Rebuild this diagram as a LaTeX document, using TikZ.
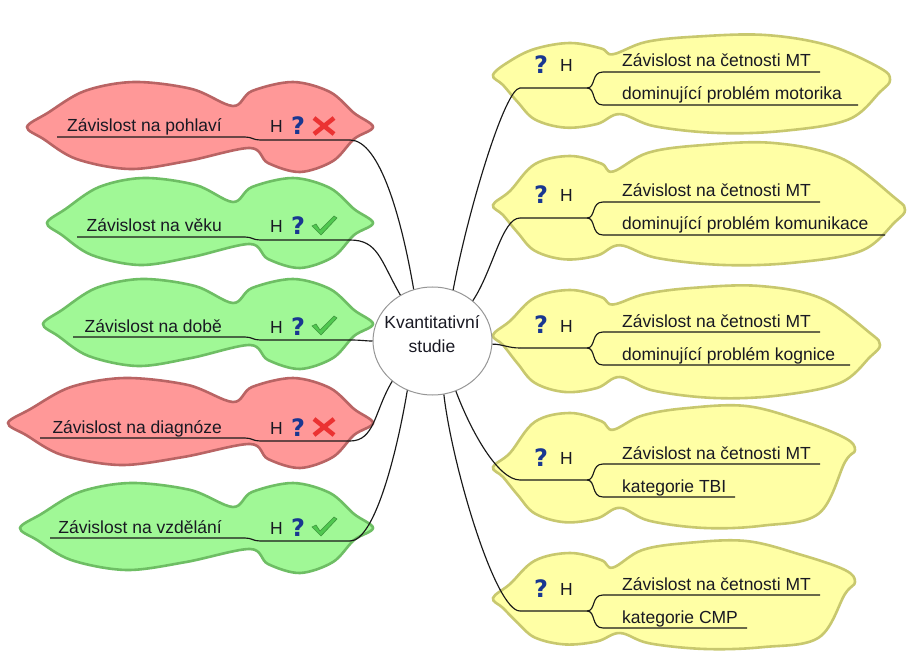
\documentclass[tikz,border=0pt]{standalone}
\usepackage{fontspec}
\setmainfont{Liberation Sans}
\newfontfamily\qfont{DejaVu Sans}
\usetikzlibrary{shapes.geometric}

\definecolor{txt}{RGB}{25,25,35}
\definecolor{redfill}{RGB}{255,152,152}
\definecolor{redline}{RGB}{185,100,100}
\definecolor{grnfill}{RGB}{160,248,150}
\definecolor{grnline}{RGB}{110,190,100}
\definecolor{ylwfill}{RGB}{255,255,165}
\definecolor{ylwline}{RGB}{200,200,110}
\definecolor{qblue}{RGB}{25,55,145}
\definecolor{xred}{RGB}{235,50,50}
\definecolor{tickg}{RGB}{80,200,80}
\definecolor{ringgray}{RGB}{150,150,150}

% double-lobed bubble on the left: #1 style, #2 left tip x, #3 axis y
\newcommand\leftblob[3]{%
  \pgfmathsetmacro\bw{233-#2}%
  \draw[#1] plot[smooth cycle, tension=0.55] coordinates {
    (#2,#3) ({#2+0.1*\bw},{#3-14}) ({#2+0.28*\bw},{#3-36}) ({#2+0.52*\bw},{#3-45})
    ({#2+0.8*\bw},{#3-38}) (233,{#3-21}) (252,{#3-36}) (293,{#3-45}) (330,{#3-35})
    (354,{#3-14}) (373,#3) (354,{#3+12}) (333,{#3+34}) (300,{#3+45}) (268,{#3+36})
    (250,{#3+21}) ({#2+0.78*\bw},{#3+34}) ({#2+0.5*\bw},{#3+42}) ({#2+0.24*\bw},{#3+32})
    ({#2+0.08*\bw},{#3+12})
  };}

% cloud on the right: #1 style, #2 baseline y, #3 right tip x, #4 top, #5 bottom,
% #6 right tip offset, #7 height of the small left lobe
\newcommand\rightblob[7]{%
  \pgfmathsetmacro\rw{#3-613}%
  \draw[#1] plot[smooth cycle, tension=0.6] coordinates {
    (493,{#2-13}) (510,{#2-27}) (535,{#2-0.87*#7}) (570,{#2-#7}) (601,{#2-0.88*#7})
    (613,{#2-0.75*#7})
    ({613+0.12*\rw},{#2-0.87*#4}) ({613+0.3*\rw},{#2-0.97*#4}) ({613+0.55*\rw},{#2-#4})
    ({613+0.78*\rw},{#2-0.8*#4})
    ({#3-10},{#2+(#6)-12}) (#3,{#2+(#6)}) ({#3-10},{#2+(#6)+12})
    ({613+0.85*\rw},{#2+0.7*#5}) ({613+0.62*\rw},{#2+0.95*#5}) ({613+0.38*\rw},{#2+#5})
    ({613+0.15*\rw},{#2+0.85*#5})
    (620,{#2+0.58*#5}) (597,{#2+0.8*#5}) (565,{#2+0.88*#5}) (535,{#2+0.7*#5})
    (518,{#2+0.32*#5}) (503,{#2-3})
  };}

% underline of a left topic: #1 start x, #2 y, #3 name of its right end
\newcommand\leftunder[3]{%
  \coordinate (#3) at (350,{#2+3});
  \draw[link] (#1,#2) -- (245,#2) .. controls (252,#2) and (253,{#2+3}) .. (260,{#2+3}) -- (#3);}

% H and question mark of a left topic: #1 underline y, #2 suffix
\newcommand\leftmarks[2]{%
  \node[lbl, anchor=base west] (h#2) at (270,{#1-4}) {H};
  \node[qmark, anchor=base west] (q#2) at (291,{#1-2}) {?};}

\newcommand\xicon[1]{%
  \draw[xmark] (314,{#1-19}) -- (334,{#1-3}) (314,{#1-3}) -- (334,{#1-19});}
\newcommand\tickicon[1]{%
  \draw[tickmk] (312,{#1-11}) -- (316,{#1-13}) -- (320,{#1-7}) -- (334,{#1-21})
    -- (337,{#1-19}) -- (321,{#1-2}) -- cycle;}

% bracket and two lines of a right topic: #1 baseline y, #2 end of lower line, #3 name
\newcommand\rightlines[3]{%
  \coordinate (#3) at (520,#1);
  \draw[link] (#3) -- (587,#1) .. controls (596,#1) and (591,{#1-16}) .. (603,{#1-16}) -- (820,{#1-16});
  \draw[link] (587,#1) .. controls (596,#1) and (591,{#1+17}) .. (603,{#1+17}) -- (#2,{#1+17});}

% labels of a right topic: #1 baseline y, #2 second line, #3 suffix
\newcommand\rightmarks[3]{%
  \node[qmark, anchor=base west] (q#3) at (534,{#1-14}) {?};
  \node[lbl, anchor=base west] (h#3) at (560,{#1-16}) {H};
  \node[lbl, anchor=base west] (ta#3) at (622,{#1-21}) {Závislost na četnosti MT};
  \node[lbl, anchor=base west] (tb#3) at (622,{#1+12}) {#2};}

\begin{document}
\begin{tikzpicture}[x=1pt,y=-1pt,
  redblob/.style={fill=redfill, draw=redline, line width=2.6pt},
  grnblob/.style={fill=grnfill, draw=grnline, line width=2.6pt},
  ylwblob/.style={fill=ylwfill, draw=ylwline, line width=2.6pt},
  link/.style={draw=black!90, line width=1.15pt},
  lbl/.style={inner sep=0pt, text=txt, font=\fontsize{17.5}{21}\selectfont},
  qmark/.style={inner sep=0pt, text=qblue, font=\qfont\bfseries\fontsize{24}{24}\selectfont},
  xmark/.style={draw=xred, line width=4.5pt},
  tickmk/.style={fill=tickg, draw=tickg!75!black, line width=0.6pt}]

\path[use as bounding box, fill=white] (0,0) rectangle (908,655);

% bubbles
\leftblob{redblob}{27}{127}
\leftblob{grnblob}{47}{223}
\leftblob{grnblob}{43}{324}
\leftblob{redblob}{8}{423}
\leftblob{grnblob}{20}{528}

\rightblob{ylwblob}{88}{890}{53}{45}{-8}{45}
\rightblob{ylwblob}{218}{905}{75}{47}{-8}{62}
\rightblob{ylwblob}{348}{880}{62}{50}{-3}{58}
\rightblob{ylwblob}{480}{855}{74}{48}{-30}{67}
\rightblob{ylwblob}{611}{855}{70}{38}{-29}{58}

% central topic
\node[ellipse, draw=ringgray, fill=white, line width=1pt, minimum width=119pt,
      minimum height=108pt, inner sep=0pt] (c) at (432.5,341) {};
\node[lbl, align=center, font=\fontsize{17.5}{24}\selectfont] (ct) at (432,334) {Kvantitativní\\studie};

% left topics
\node[lbl, anchor=base east] (t1) at (222,132) {Závislost na pohlaví};
\leftunder{57}{137}{e1}
\leftmarks{137}{1}
\xicon{137}

\node[lbl, anchor=base east] (t2) at (222,232) {Závislost na věku};
\leftunder{77}{237}{e2}
\leftmarks{237}{2}
\tickicon{237}

\node[lbl, anchor=base east] (t3) at (222,332) {Závislost na době};
\leftunder{73}{337}{e3}
\leftmarks{337}{3}
\tickicon{337}

\node[lbl, anchor=base east] (t4) at (222,433) {Závislost na diagnóze};
\leftunder{40}{438}{e4}
\leftmarks{438}{4}
\xicon{438}

\node[lbl, anchor=base east] (t5) at (222,533) {Závislost na vzdělání};
\leftunder{50}{538}{e5}
\leftmarks{538}{5}
\tickicon{538}

% right topics
\rightlines{88}{858}{r1}
\rightmarks{88}{dominující problém motorika}{r1}
\rightlines{218}{885}{r2}
\rightmarks{218}{dominující problém komunikace}{r2}
\rightlines{348}{850}{r3}
\rightmarks{348}{dominující problém kognice}{r3}
\rightlines{480}{735}{r4}
\rightmarks{480}{kategorie TBI}{r4}
\rightlines{611}{747}{r5}
\rightmarks{611}{kategorie CMP}{r5}

% branches from the central topic
\draw[link] (e1) .. controls +(30,0) and +(-12,-70) .. (c.110);
\draw[link] (e2) .. controls +(28,0) and +(-20,-35) .. (c.125);
\draw[link] (e3) .. controls +(12,0) and +(-8,0) .. (c.west);
\draw[link] (e4) .. controls +(25,0) and +(-18,30) .. (c.225);
\draw[link] (e5) .. controls +(25,0) and +(-10,60) .. (c.243);
\draw[link] (r1) .. controls +(-15,0) and +(15,-80) .. (c.68);
\draw[link] (r2) .. controls +(-18,0) and +(20,-30) .. (c.45);
\draw[link] (r3) .. controls +(-12,0) and +(10,0) .. (c.-3);
\draw[link] (r4) .. controls +(-22,0) and +(15,40) .. (c.295);
\draw[link] (r5) .. controls +(-25,0) and +(8,70) .. (c.282);
\end{tikzpicture}
\end{document}
